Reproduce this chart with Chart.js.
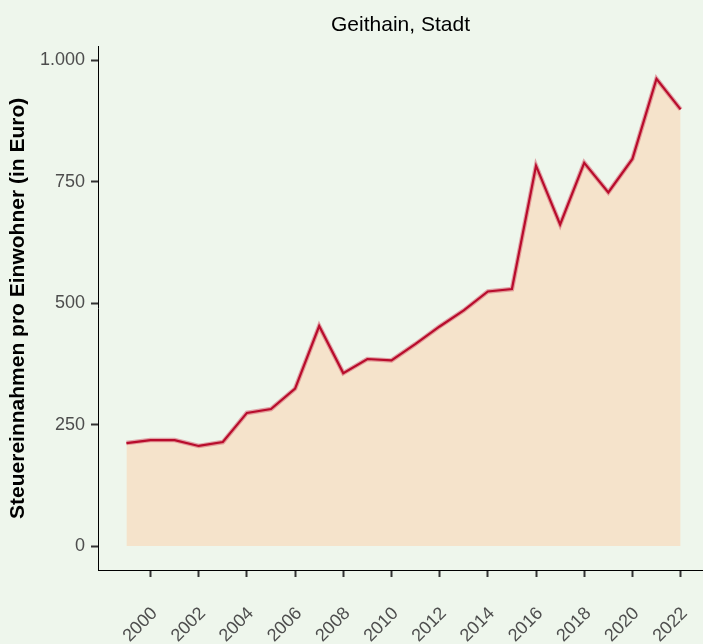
<!DOCTYPE html>
<html>
<head>
<meta charset="utf-8">
<script src="https://cdn.jsdelivr.net/npm/chart.js@4"></script>
<style>
  html, body { margin: 0; padding: 0; background: #EEF6EC; }
  #wrap { width: 703px; height: 644px; }
</style>
</head>
<body>
<div id="wrap"><canvas id="chart" width="703" height="644"></canvas></div>
<script>
// Steuereinnahmen pro Einwohner, Geithain (Stadt)
const years = [1999, 2000, 2001, 2002, 2003, 2004, 2005, 2006, 2007, 2008, 2009, 2010,
               2011, 2012, 2013, 2014, 2015, 2016, 2017, 2018, 2019, 2020, 2021, 2022];
const taxPerCapita = [212, 218, 218, 206, 214, 274, 282, 324, 453, 356, 385, 382,
                      416, 452, 485, 524, 529, 783, 662, 789, 728, 797, 962, 899];
const yTicks = [0, 250, 500, 750, 1000];
const xTicks = [2000, 2002, 2004, 2006, 2008, 2010, 2012, 2014, 2016, 2018, 2020, 2022];

const points = years.map((y, i) => ({ x: y, y: taxPerCapita[i] }));

// thousands separator like German locale
function fmtDe(v) {
    return String(v).replace(/\B(?=(\d{3})+(?!\d))/g, '.');
}

const ctx = document.getElementById('chart').getContext('2d');

new Chart(ctx, {
    type: 'line',
    data: {
        // first dataset is drawn on top
        datasets: [
            {
                data: points,
                fill: false,
                borderColor: '#B80C2C',
                borderWidth: 2.2,
                pointRadius: 0,
                tension: 0
            },
            {
                // soft halo under the line
                data: points,
                fill: false,
                borderColor: 'rgba(214, 92, 110, 0.55)',
                borderWidth: 4.5,
                pointRadius: 0,
                tension: 0
            },
            {
                // area
                data: points,
                fill: 'origin',
                backgroundColor: '#F5E3CB',
                borderWidth: 0,
                pointRadius: 0,
                tension: 0
            }
        ]
    },
    options: {
        responsive: false,
        animation: false,
        devicePixelRatio: 1,
        layout: { padding: 0 },
        plugins: {
            legend: { display: false },
            tooltip: { enabled: false },
            title: {
                display: true,
                text: 'Geithain, Stadt',
                fullSize: false,
                color: '#000000',
                font: { family: 'Liberation Sans, Arial, sans-serif', size: 21, weight: 'normal' },
                padding: { top: 13, bottom: 8.5 }
            }
        },
        scales: {
            x: {
                type: 'linear',
                min: 1997.82,
                max: 2022.93,
                afterBuildTicks: axis => {
                    axis.ticks = xTicks.map(v => ({ value: v }));
                },
                afterFit: axis => {
                    axis.height = 74;
                    axis.paddingLeft = 0;
                    axis.paddingRight = 0;
                },
                ticks: {
                    autoSkip: false,
                    maxRotation: 45,
                    minRotation: 45,
                    padding: 26,
                    labelOffset: 4,
                    color: '#4D4D4D',
                    font: { family: 'Liberation Sans, Arial, sans-serif', size: 18 },
                    callback: v => String(v)
                },
                grid: {
                    display: true,
                    drawOnChartArea: false,
                    drawTicks: true,
                    tickLength: 7,
                    tickWidth: 2,
                    tickColor: '#333333'
                },
                border: { display: true, color: '#000000', width: 1 }
            },
            y: {
                type: 'linear',
                min: -49.4,
                max: 1028,
                afterBuildTicks: axis => {
                    axis.ticks = yTicks.map(v => ({ value: v }));
                },
                afterFit: axis => {
                    axis.width = 98;
                    axis.paddingTop = 0;
                    axis.paddingBottom = 0;
                },
                ticks: {
                    padding: 6,
                    color: '#4D4D4D',
                    font: { family: 'Liberation Sans, Arial, sans-serif', size: 18 },
                    callback: v => fmtDe(v)
                },
                grid: {
                    display: true,
                    drawOnChartArea: false,
                    drawTicks: true,
                    tickLength: 7,
                    tickWidth: 2,
                    tickColor: '#333333'
                },
                border: { display: true, color: '#000000', width: 1 },
                title: {
                    display: true,
                    text: 'Steuereinnahmen pro Einwohner (in Euro)',
                    color: '#000000',
                    font: { family: 'Liberation Sans, Arial, sans-serif', size: 21, weight: 'bold' },
                    padding: { top: 6, bottom: 0 }
                }
            }
        }
    }
});
</script>
</body>
</html>
